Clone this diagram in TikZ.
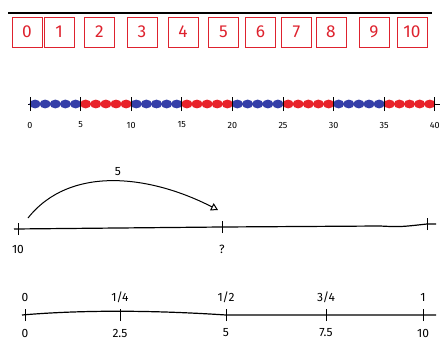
\documentclass[tikz,border=0pt]{standalone}
\usepackage{fontspec}
\setmainfont{Fira Sans}
\usetikzlibrary{arrows.meta}
\definecolor{cardred}{RGB}{222,34,46}
\definecolor{beadred}{RGB}{232,34,42}
\definecolor{beadblue}{RGB}{52,62,168}

\begin{document}
\begin{tikzpicture}[x=1pt,y=-1pt,
  card/.style={draw=cardred,text=cardred,line width=1pt,minimum width=30pt,minimum height=30pt,inner sep=0pt,font=\LARGE},
  tick/.style={line width=1pt},
  lab/.style={font=\large,inner sep=1pt}]
  \useasboundingbox (0,0) rectangle (440,343);
  % number cards
  \draw[line width=1.2pt] (8,13) -- (432,13);
  \foreach \n/\x in {0/27,1/59,2/99.5,3/142,4/183,5/223.5,6/260.5,7/296.5,8/331,9/374,10/412}
    \node[card] (c\n) at (\x,32) {\n};
  % bead string
  \draw[thin] (28,104) -- (440,104);
  \foreach \g/\c in {0/beadblue,1/beadred,2/beadblue,3/beadred,4/beadblue,5/beadred,6/beadblue,7/beadred}
    \foreach \k in {0,...,4}
      \fill[\c] ({30+10.12*(5*\g+\k+0.5)},104) ellipse (5.6 and 4.4);
  \foreach \t in {0,...,8}{
    \pgfmathtruncatemacro{\v}{5*\t}
    \coordinate (b\t) at ({30+50.6*\t},104);
    \draw[tick] ([yshift=-7]b\t) -- ([yshift=7]b\t);
    \node[lab,font=\small] (bl\t) at ([yshift=-21]b\t) {\v};
  }
  % jump on the line
  \coordinate (s) at (18,229);
  \coordinate (q) at (222,227);
  \coordinate (e) at (427,224);
  \draw[line width=1.2pt] (14,229) -- (q) -- (380,226) .. controls (400,227) .. (e) -- (436,224);
  \foreach \p in {s,q,e} \draw[tick] ([yshift=-6]\p) -- ([yshift=6]\p);
  \node[lab] (ls) at ([yshift=-20]s) {10};
  \node[lab] (lq) at ([yshift=-22]q) {?};
  \draw[line width=1pt,-{Triangle[open,length=7pt,width=8pt]}] ([shift={(10,-11)}]s)
    .. controls (70,165) and (150,175) .. ([shift={(-4,-17)}]q);
  \node[lab] (five) at (118,172) {5};
  % fractions of ten
  \draw[line width=1.2pt] (22,315) .. controls (80,310) and (150,310) .. (226,315) -- (436,315);
  \foreach \i/\x/\top/\bot in {0/25/0/0,1/120/{1/4}/2.5,2/226/{1/2}/5,3/326/{3/4}/7.5,4/423/1/10}{
    \coordinate (f\i) at (\x,315);
    \draw[tick] ([yshift=-6]f\i) -- ([yshift=6]f\i);
    \node[lab] (ft\i) at ([yshift=18]f\i) {\top};
    \node[lab] (fb\i) at ([yshift=-18]f\i) {\bot};
  }
\end{tikzpicture}
\end{document}
